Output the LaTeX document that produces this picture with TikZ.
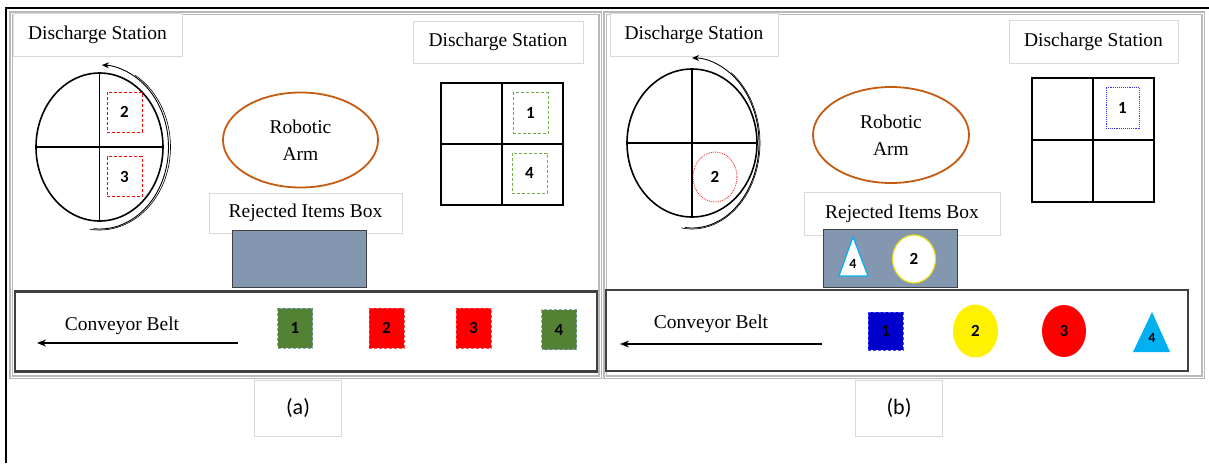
\documentclass[tikz,border=0pt]{standalone}
\usepackage{fontspec}
\setmainfont{Liberation Serif}
\newfontfamily\labelfont{Liberation Serif}
\newfontfamily\numfont{Carlito}
\usetikzlibrary{positioning,arrows.meta,shapes.geometric}

\definecolor{armbrown}{HTML}{C55A11}
\definecolor{binblue}{HTML}{8497B0}
\definecolor{okgreen}{HTML}{548235}
\definecolor{lightgreen}{HTML}{70AD47}
\definecolor{edgeblue}{HTML}{41719C}
\definecolor{skyblue}{HTML}{00B0F0}
\definecolor{beltgray}{HTML}{404040}

\begin{document}
\begin{tikzpicture}
	[x=1pt,y=-1pt,
	every node/.style={font=\labelfont\fontsize{19.5}{27}\selectfont, inner sep=0pt, align=center},
	tag/.style={draw=gray!30, line width=0.8pt, fill=white, minimum width=#1, minimum height=43},
	panel/.style={draw=gray!55, line width=1.2pt, double=white, double distance=0.8pt},
	wheel/.style={draw, ellipse, line width=1.6pt},
	arm/.style={draw=armbrown, ellipse, line width=1.8pt, minimum width=155, minimum height=95},
	bin/.style={draw=beltgray, line width=1pt, fill=binblue, minimum width=134, minimum height=57},
	belt/.style={draw=beltgray, line width=2.4pt, minimum width=582, minimum height=80},
	turn/.style={line width=0.9pt},
	num/.style={font=\numfont\fontsize{17}{17}\bfseries\selectfont},
	box/.style={num, densely dashed, line width=0.9pt, minimum width=35, minimum height=40},
	blob/.style={num, ellipse, minimum width=45, minimum height=53},
	sub/.style={draw=gray!30, line width=0.8pt, minimum width=87, minimum height=56, font=\numfont\fontsize{22}{22}\selectfont}]
	\useasboundingbox (0,0) rectangle (1209,463);
	\draw[line width=1.6pt] (6,463) -- (6,8) -- (1209,8);
	\draw[panel] (11,13) rectangle (600,377);
	\draw[panel] (605,13) rectangle (1203,377);
	
	% (a)
	\node[tag=169] (ds1) at (97.5,35) {Discharge Station};
	\node[wheel, minimum width=127, minimum height=148] (w1) at (99.5,147) {};
	\draw[line width=1.6pt] (w1.north) -- (w1.south) (w1.west) -- (w1.east);
	\node[box, draw=red] (w1a) at (124.5,112) {2};
	\node[box, draw=red] (w1b) at (124.5,176.5) {3};
	\draw[turn, -{Stealth[length=7pt,width=6pt]}] ([shift={(95:69 and 82)}]w1.center) arc[start angle=95, end angle=-88, x radius=69, y radius=82];
	\draw[turn, line width=0.6pt] ([shift={(98:71 and 83)}]w1.center) arc[start angle=98, end angle=-60, x radius=71, y radius=83];
	\node[arm] (arm1) at (300.5,140) {Robotic\\Arm};
	\node[tag=193, minimum height=40] (rej1) at (305.5,213) {Rejected Items Box};
	\node[bin] (bin1) at (299,258.5) {};
	\node[tag=170, minimum height=42] (ds2) at (498,42) {Discharge Station};
	\node[draw, line width=1.6pt, minimum width=122, minimum height=122] (g1) at (502,144) {};
	\draw[line width=1.6pt] (g1.north) -- (g1.south) (g1.west) -- (g1.east);
	\node[box, draw=lightgreen, minimum height=41] (g1a) at (530.5,113) {1};
	\node[box, draw=lightgreen] (g1b) at (529.5,173) {4};
	\node[belt] (belt1) at (306,331.5) {};
	\coordinate (b1s) at (238,343);
	\coordinate (b1e) at (37,343);
	\draw[line width=2pt, -{Stealth[length=9pt,width=7pt]}] (b1s) -- (b1e);
	\node (cb1) at (122,326) {Conveyor Belt};
	\node[box, draw=edgeblue!60, fill=okgreen] (p1) at (295,328) {1};
	\node[box, draw=red!70, fill=red] (p2) at (386.5,328) {2};
	\node[box, draw=red!70, fill=red] (p3) at (473.5,328) {3};
	\node[box, draw=edgeblue!60, fill=okgreen] (p4) at (559,329.5) {4};
	\node[sub] (la) at (298,408) {(a)};
	
	% (b)
	\node[tag=168] (ds3) at (694,35) {Discharge Station};
	\node[wheel, minimum width=130, minimum height=148] (w2) at (692,143) {};
	\draw[line width=1.6pt] (w2.north) -- (w2.south) (w2.west) -- (w2.east);
	\node[blob, draw=red!80, densely dotted, line width=0.9pt, minimum width=44, minimum height=50] (w2a) at (715,177) {2};
	\draw[turn, -{Stealth[length=7pt,width=6pt]}] ([shift={(96:67 and 85)}]w2.center) arc[start angle=96, end angle=-90, x radius=67, y radius=85];
	\draw[turn, line width=0.6pt] ([shift={(99:68 and 86)}]w2.center) arc[start angle=99, end angle=-55, x radius=68, y radius=86];
	\node[arm, minimum width=156, minimum height=96] (arm2) at (891,135) {Robotic\\Arm};
	\node[tag=196] (rej2) at (902,213.5) {Rejected Items Box};
	\node[bin, minimum height=58] (bin2) at (890,258) {};
	\draw[draw=skyblue, line width=1.2pt, fill=white] (853,237) -- (868,276) -- (839,276) -- cycle;
	\node[num, font=\numfont\fontsize{14}{14}\bfseries\selectfont] (r4) at (853,264) {4};
	\node[blob, draw=yellow!90!black, line width=1.2pt, fill=white, minimum width=43, minimum height=48] (r2) at (914,259) {2};
	\node[tag=169] (ds4) at (1093.5,41.5) {Discharge Station};
	\node[draw, line width=1.6pt, minimum width=122, minimum height=124] (g2) at (1093,140) {};
	\draw[line width=1.6pt] (g2.north) -- (g2.south) (g2.west) -- (g2.east);
	\node[box, draw=blue!80, densely dotted, minimum width=33, minimum height=41] (g2a) at (1122.5,107.5) {1};
	\node[belt, minimum height=81] (belt2) at (897,330.5) {};
	\coordinate (b2s) at (822,344);
	\coordinate (b2e) at (620,344);
	\draw[line width=2pt, -{Stealth[length=9pt,width=7pt]}] (b2s) -- (b2e);
	\node (cb2) at (711,324) {Conveyor Belt};
	\node[box, draw=blue!70, fill=blue!80!black, minimum height=38] (q1) at (885.5,331) {1};
	\node[blob, fill=yellow] (q2) at (975.5,331) {2};
	\node[blob, fill=red, minimum width=44, minimum height=52] (q3) at (1064,331) {3};
	\fill[skyblue] (1152,312) -- (1170,352) -- (1133,352) -- cycle;
	\node[num, font=\numfont\fontsize{14}{14}\bfseries\selectfont] (q4) at (1152,338) {4};
	\node[sub] (lb) at (899,408) {(b)};
\end{tikzpicture}
\end{document}
